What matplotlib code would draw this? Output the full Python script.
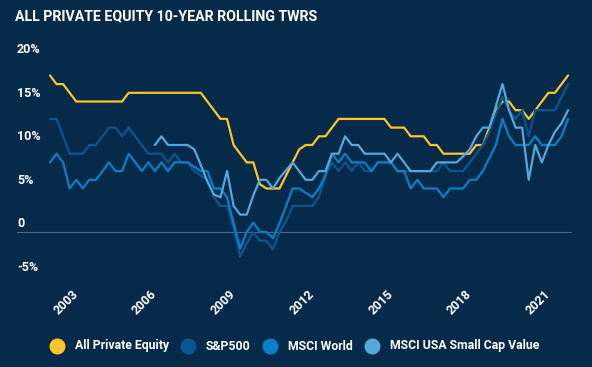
import numpy as np
import matplotlib.pyplot as plt
from matplotlib.lines import Line2D
from matplotlib import transforms

# quarterly observations, Q1 2002 .. Q4 2021
quarters = 2002 + np.arange(80) / 4

private_equity = [
    18, 17, 17, 16, 15, 15, 15, 15, 15, 15,
    15, 15, 16, 16, 16, 16, 16, 16, 16, 16,
    16, 16, 16, 16, 15, 14, 13, 13, 10, 9,
    8, 8, 5.5, 5, 5, 5, 6.5, 8, 9.5, 10,
    10, 11, 11, 12, 13, 13, 13, 13, 13, 13,
    13, 13, 12, 12, 12, 11, 11, 11, 10, 10,
    9, 9, 9, 9, 9, 10, 10, 12, 14, 15,
    15, 14, 14, 13, 14, 15, 16, 16, 17, 18,
]
sp500 = [
    13, 13, 11, 9, 9, 9, 10, 10, 11, 12,
    12, 11, 12, 11, 10, 9, 9, 9, 8, 9,
    8, 8, 7, 6.5, 6, 4, 3, 3, 0.5, -2.8,
    -1.3, 0, -1, -1, -2, 0, 1.2, 3, 3, 3,
    3, 4, 6.5, 8, 7, 8, 7, 8, 7, 7,
    8, 8, 8, 7, 7, 7, 7, 7, 7, 7,
    8, 7, 7, 7, 8, 9, 10, 11.5, 13.5, 15.5,
    14, 13, 14, 11, 14, 14, 14, 14, 15.5, 17,
]
msci_world = [
    8, 9, 8, 5, 6, 5, 6, 6, 7, 8,
    7, 7, 9, 8, 7, 8, 7, 8, 7, 8,
    8, 8, 7.5, 7, 7, 5, 5, 4, 1, -1.9,
    0, 1.1, 0, 0, -0.7, 1, 3, 5, 5, 4.5,
    4, 5, 6.5, 9, 8, 9, 8, 8, 8, 7,
    8, 8, 8, 7, 7, 5, 6, 5, 5, 5,
    4, 5, 5, 5, 6, 6, 7, 8.5, 10, 13,
    11, 10, 10, 10, 11, 10, 10, 10, 11, 13,
]
small_cap_value = [np.nan] * 16 + [
    10, 11, 10, 10,
    10, 10, 9.5, 7.7, 5.8, 4.3, 4, 7, 3, 2,
    2, 4.2, 6, 6, 5, 6.2, 7.1, 8, 7, 6,
    6, 7, 7, 9, 9, 11, 10, 10, 9, 9,
    9, 9, 8, 9, 8, 7, 7, 7, 7, 8,
    8, 8, 8, 8.7, 9.5, 11, 12, 12, 14.5, 17,
    14, 12, 12, 6, 10, 8, 10, 11.5, 12.5, 14,
]

series_names = ["All Private Equity", "S&P500", "MSCI World", "MSCI USA Small Cap Value"]
series_values = [private_equity, sp500, msci_world, small_cap_value]
colors = ["#fdc526", "#0b5590", "#0a80c8", "#57a8da"]

year_ticks = [2003, 2006, 2009, 2012, 2015, 2018, 2021]
y_ticks = [-5, 0, 5, 10, 15, 20]
y_labels = ["-5%", "0", "5%", "10%", "15%", "20%"]

BG = "#062a4a"
plt.rcParams["font.family"] = ["Roboto", "DejaVu Sans"]
plt.rcParams["font.weight"] = "bold"

W, H = 592, 367
fig = plt.figure(figsize=(W / 100, H / 100), dpi=100, facecolor=BG)
ax = fig.add_axes([17 / W, 1 - 280 / H, 555 / W, 240 / H])
ax.set_facecolor(BG)

for vals, c in zip(series_values, colors):
    ax.plot(quarters, vals, color=c, lw=1.6, solid_joinstyle="round", solid_capstyle="round")

ax.axhline(0, color="#4b6784", lw=0.8, zorder=0)

ax.set_xlim(2000.742, 2021.90)
ax.set_ylim(-5.517, 22.07)
for s in ax.spines.values():
    s.set_visible(False)

ax.set_yticks([])
ax.set_xticks(year_ticks)
ax.set_xticklabels([str(y) for y in year_ticks], rotation=45, ha="right",
                   va="center", rotation_mode="anchor")
ax.tick_params(axis="x", length=0, pad=9, colors="white", labelsize=9)

# y labels sit just above their (hidden) grid lines, left aligned
ytrans = transforms.offset_copy(
    transforms.blended_transform_factory(fig.transFigure, ax.transData),
    fig=fig, y=6, units="points")
for v, lab in zip(y_ticks, y_labels):
    fig.text(17 / W, v, lab, transform=ytrans, color="white", fontsize=9,
             fontweight="bold", va="center", ha="left")

fig.text(15 / W, 1 - 16 / H, "ALL PRIVATE EQUITY 10-YEAR ROLLING TWRS",
         color="white", fontsize=10.2, fontweight="bold", va="center", ha="left")

# legend row
renderer = fig.canvas.get_renderer()
x = 49
yl = 1 - 346 / H
for name, c in zip(series_names, colors):
    fig.add_artist(Line2D([(x + 8) / W], [yl], marker="o", ms=11.5, color=c,
                          markeredgewidth=0, transform=fig.transFigure))
    t = fig.text((x + 26) / W, yl, name, color="white", fontsize=8.8,
                 fontweight="bold", va="center", ha="left")
    x = x + 26 + t.get_window_extent(renderer).width + 11

fig.savefig("out.png", dpi=100, facecolor=BG)
